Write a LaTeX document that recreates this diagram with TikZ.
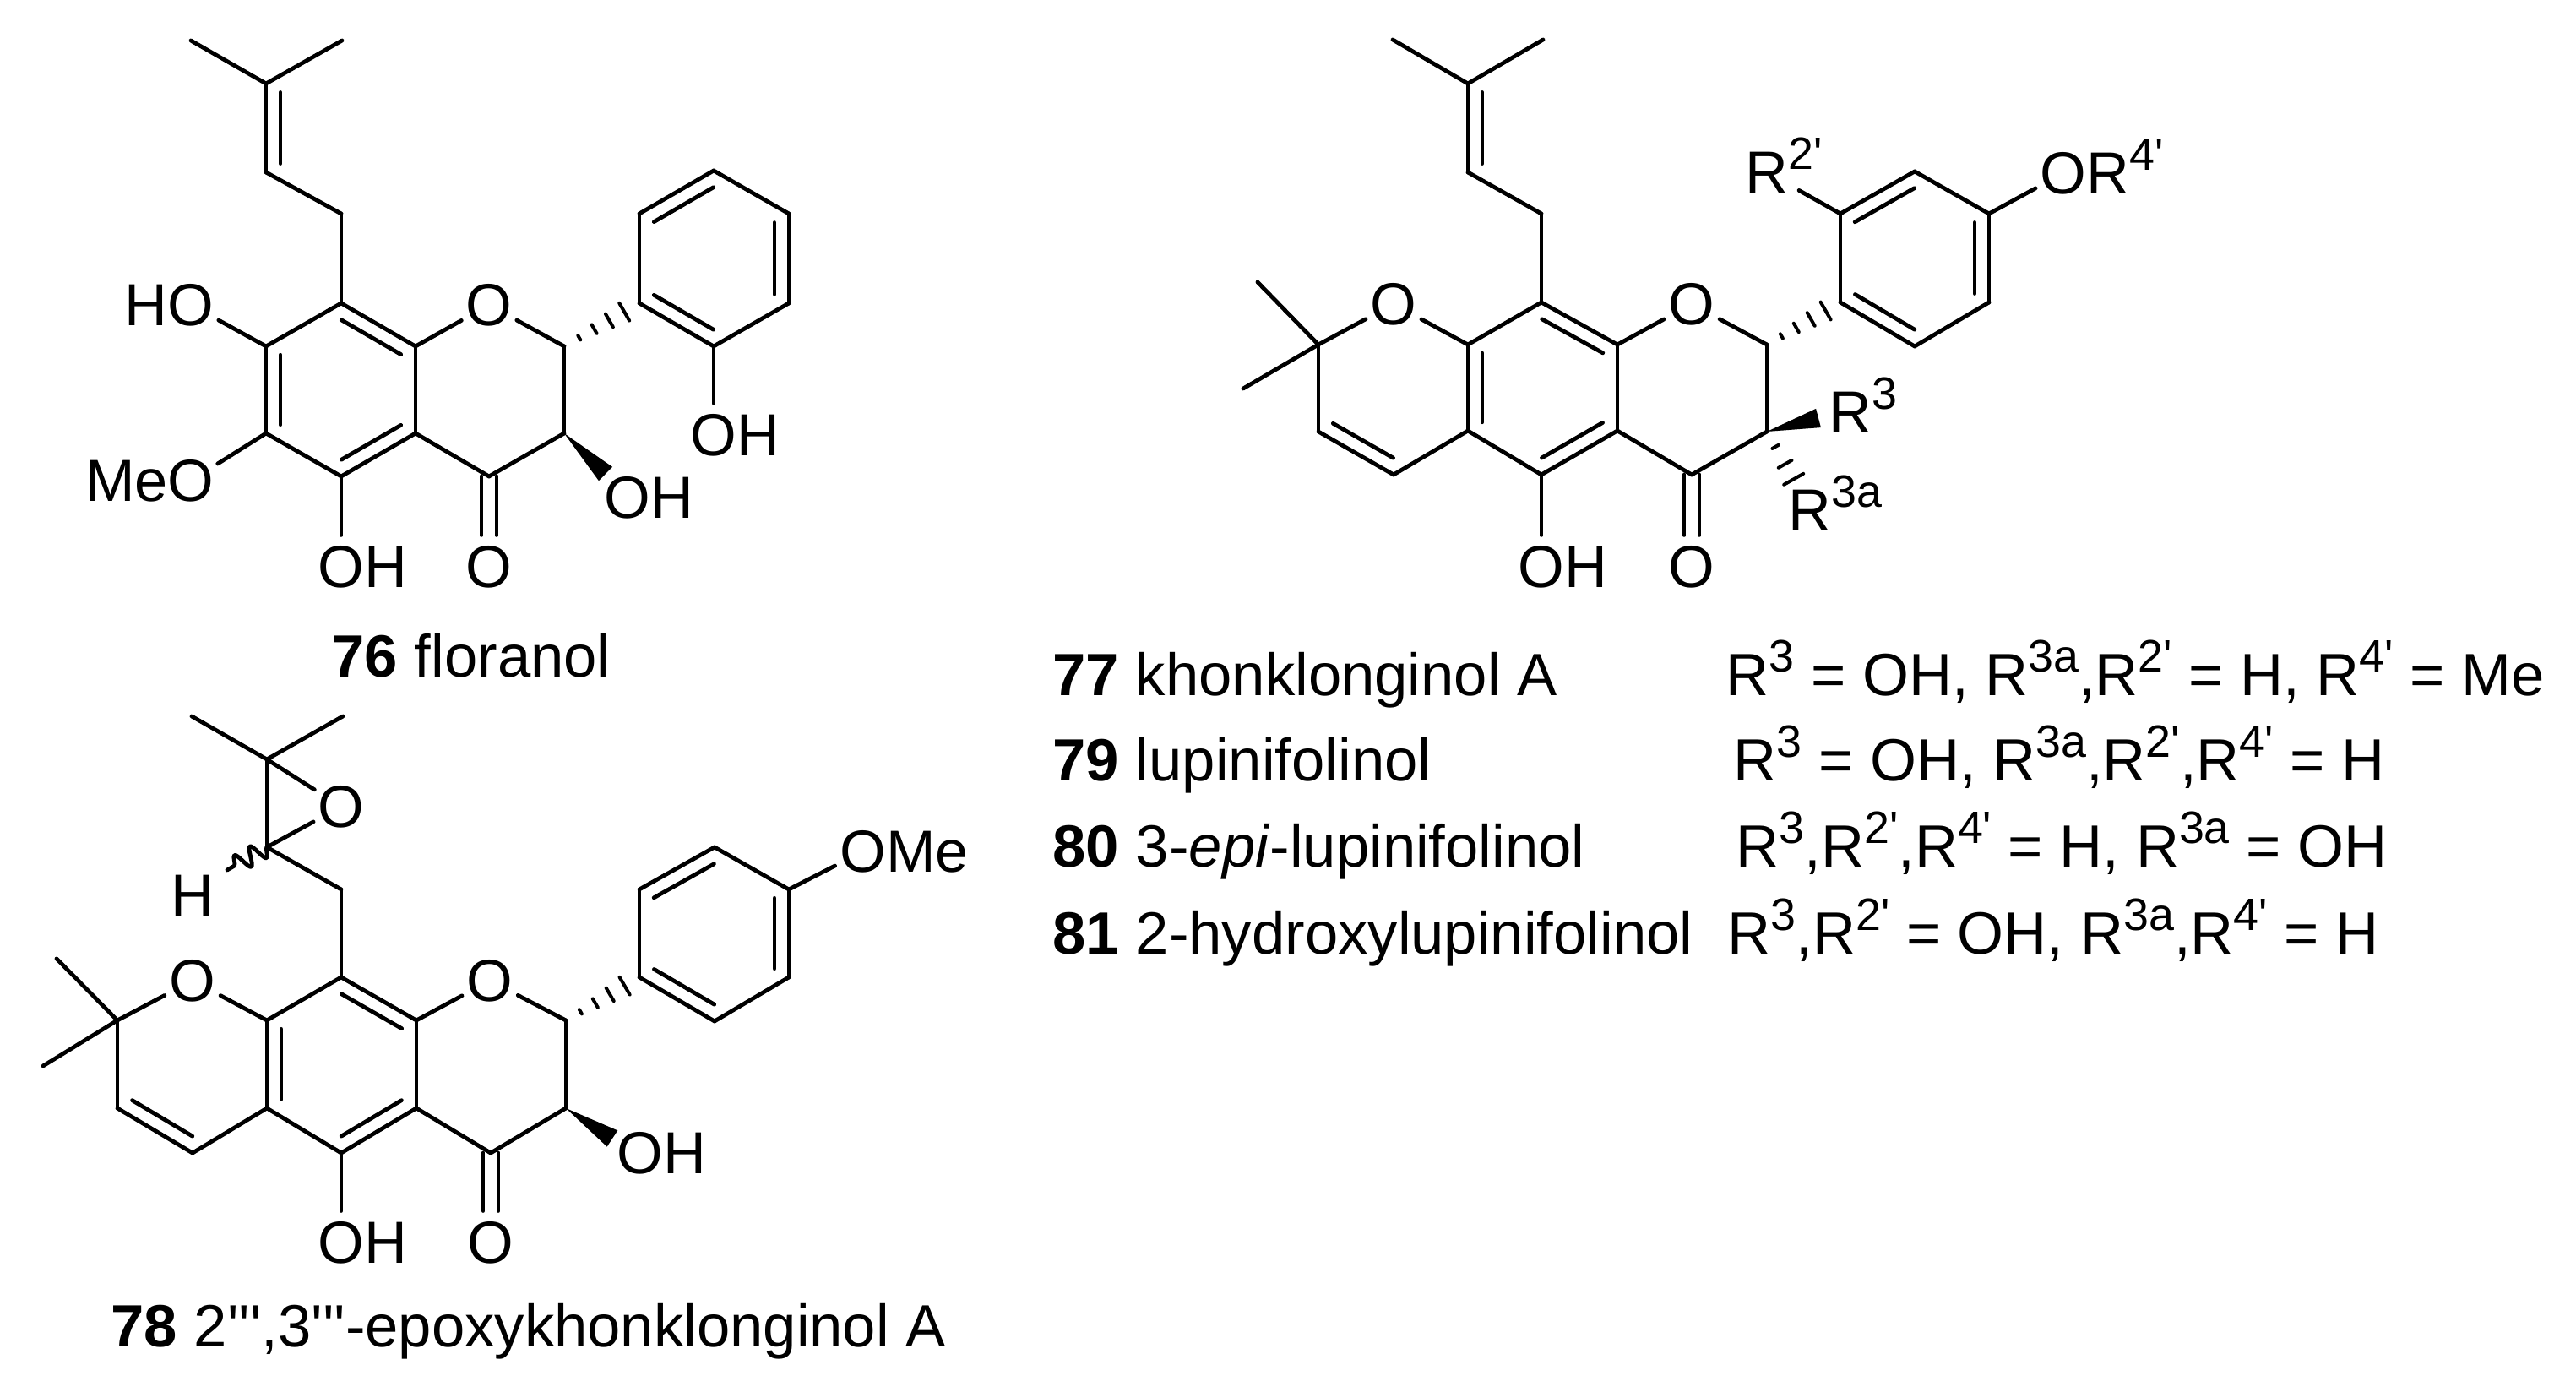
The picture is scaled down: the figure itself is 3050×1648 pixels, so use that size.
\documentclass[tikz,border=0pt]{standalone}
\usepackage{fontspec}
\usepackage{tikz}
\usetikzlibrary{calc,decorations.pathmorphing}
\newfontfamily\molfont{Liberation Sans}
\newcommand{\sps}[1]{\raisebox{.4em}{\fontsize{15.3}{15.3}\selectfont #1}}
\newcommand{\pr}{'}
% inner line of a double bond lies to the right of a->b
\newcommand{\dbl}[2]{%
    \draw[bond] (#1) -- (#2);
    \draw[bond] ($(#1)!.1!(#2)!1.7mm!-90:(#2)$) -- ($(#2)!.1!(#1)!1.7mm!90:(#1)$);}
\newcommand{\hashb}[3]{%
    \foreach \t in {#3} {
        \draw[bond,line width=.4mm] ($(#1)!\t!(#2)!\t*1.5mm!90:(#2)$) -- ($(#1)!\t!(#2)!\t*1.5mm!-90:(#2)$);}}
\newcommand{\wedgeb}[2]{%
    \fill (#1) -- ($(#2)!1.15mm!90:(#1)$) -- ($(#2)!1.15mm!-90:(#1)$) -- cycle;}
\newcommand{\cobond}[2]{%
    \draw[bond] ([xshift=-.9mm]#1.center) -- ([xshift=-.9mm]#2.north);
    \draw[bond] ([xshift=.9mm]#1.center) -- ([xshift=.9mm]#2.north);}
\tikzset{
    bond/.style={line width=.48mm,line cap=round,line join=round},
    het/.style={circle,inner sep=0pt,minimum size=7.2mm,font=\molfont\fontsize{20}{20}\selectfont},
    rgrp/.style={het,minimum size=8.6mm},
    capt/.style={anchor=base west,inner sep=0pt,font=\molfont\fontsize{20.1}{20.1}\selectfont}
}
\begin{document}
\begin{tikzpicture}[x=.1mm,y=-.1mm]
    \path[fill=white,use as bounding box] (0,0) rectangle (3050,1648);

    %% Molecule 76, top left
    \foreach \n/\x/\y in {flMa/226/48,flMb/405/48,flPa/315/99,flPb/315/204,flCh/404/253,
        flC8/404/359,flC7/315/410,flC6/315/513,flC5/404/564,flC4a/492/513,flC8a/492/410,
        flC2/668/410,flC3/668/513,flC4/579/564,flWd/717/561,
        flA1/757/359,flA2/757/253,flA3/845/202,flA4/934/253,flA5/934/359,flA6/845/410}
        \coordinate (\n) at (\x,\y);
    \node[het] (flO1) at (579,361) {O};
    \node[het] (flO4) at (579,671) {O};
    \node[het] (flHO7) at (226,361) {\llap{H}O};
    \node[het] (flOM) at (226,569) {\llap{Me}O};
    \node[het] (flOH5) at (404,671) {O\rlap{H}};
    \node[het] (flOH3) at (743,589) {O\rlap{H}};
    \node[het] (flOHa) at (845,515) {O\rlap{H}};
    \foreach \a/\b in {flMa/flPa,flMb/flPa,flPb/flCh,flCh/flC8,flC8/flC7,flC6/flC5,flC4a/flC8a,
        flC8a/flO1,flO1/flC2,flC2/flC3,flC3/flC4,flC4/flC4a,flA1/flA2,flA3/flA4,flA5/flA6,
        flC7/flHO7,flC6/flOM,flC5/flOH5,flA6/flOHa}
        \draw[bond] (\a) -- (\b);
    \dbl{flPb}{flPa}
    \dbl{flC8}{flC8a}
    \dbl{flC6}{flC7}
    \dbl{flC4a}{flC5}
    \dbl{flA2}{flA3}
    \dbl{flA4}{flA5}
    \dbl{flA6}{flA1}
    \cobond{flC4}{flO4}
    \hashb{flC2}{flA1}{.2,.4,.6,.8}
    \wedgeb{flC3}{flWd}
    \node[capt] (flName) at (392,802) {\textbf{76} floranol};

    %% Molecule 77, top right
    \foreach \n/\x/\y in {khMa/1649/47,khMb/1827/47,khPa/1738/99,khPb/1738/204,khCh/1825/253,
        khC10/1825/358,khC9/1738/408,khC8/1738/510,khC5/1825/562,khC4a/1915/510,khC8a/1915/408,
        khC2/2092/408,khC3/2092/511,khC4/2003/562,khGm/1561/408,khMc/1489/334,khMd/1472/460,
        khCa/1561/511,khCb/1650/562,khWd/2153/495,khHs/2128/575,
        khA1/2179/358,khA2/2179/253,khA3/2267/203,khA4/2355/253,khA5/2355/358,khA6/2267/410}
        \coordinate (\n) at (\x,\y);
    \node[het] (khO1) at (2003,360) {O};
    \node[het] (khO2) at (1650,360) {O};
    \node[het] (khO4) at (2003,671) {O};
    \node[het] (khOH) at (1825,671) {O\rlap{H}};
    \node[het] (khOR) at (2443,205) {O\rlap{R\smash{\sps{4\pr}}}};
    \node[rgrp] (khR2) at (2092,204) {R\rlap{\smash{\sps{2\pr}}}};
    \node[het] (khR3) at (2191,488) {R\rlap{\smash{\sps{3}}}};
    \node[het] (khR3a) at (2143,604) {R\rlap{\smash{\sps{3a}}}};
    \foreach \a/\b in {khMa/khPa,khMb/khPa,khPb/khCh,khCh/khC10,khC10/khC9,khC9/khO2,khO2/khGm,
        khGm/khMc,khGm/khMd,khGm/khCa,khCb/khC8,khC8/khC5,khC4a/khC8a,khC8a/khO1,khO1/khC2,
        khC2/khC3,khC3/khC4,khC4/khC4a,khA1/khA2,khA3/khA4,khA5/khA6,khC5/khOH,khA4/khOR,khA2/khR2}
        \draw[bond] (\a) -- (\b);
    \dbl{khPb}{khPa}
    \dbl{khC10}{khC8a}
    \dbl{khC8}{khC9}
    \dbl{khC4a}{khC5}
    \dbl{khCb}{khCa}
    \dbl{khA2}{khA3}
    \dbl{khA4}{khA5}
    \dbl{khA6}{khA1}
    \cobond{khC4}{khO4}
    \hashb{khC2}{khA1}{.2,.4,.6,.8}
    \hashb{khC3}{khHs}{.28,.6,.88}
    \wedgeb{khC3}{khWd}

    %% Names and substituents, right
    \node[capt] (khName) at (1246,824) {\textbf{77} khonklonginol A};
    \node[capt] (luName) at (1246,925) {\textbf{79} lupinifolinol};
    \node[capt] (epiName) at (1246,1027) {\textbf{80} 3-\textit{epi}-lupinifolinol};
    \node[capt] (hyName) at (1246,1130) {\textbf{81} 2-hydroxylupinifolinol};
    \node[capt] (khSub) at (2043,824) {R\sps{3} = OH, R\sps{3a},R\sps{2\pr} = H, R\sps{4\pr} = Me};
    \node[capt] (luSub) at (2052,925) {R\sps{3} = OH, R\sps{3a},R\sps{2\pr},R\sps{4\pr} = H};
    \node[capt] (epiSub) at (2055,1027) {R\sps{3},R\sps{2\pr},R\sps{4\pr} = H, R\sps{3a} = OH};
    \node[capt] (hySub) at (2045,1130) {R\sps{3},R\sps{2\pr} = OH, R\sps{3a},R\sps{4\pr} = H};

    %% Molecule 78, bottom left
    \foreach \n/\x/\y in {epMa/227/848,epMb/406/848,epQa/316/899,epQb/316/1003,epCh/404/1053,
        epC10/404/1157,epC9/316/1208,epC8/316/1312,epC5/404/1365,epC4a/493/1312,epC8a/493/1208,
        epC2/670/1208,epC3/670/1312,epC4/581/1365,epGm/139/1208,epMc/67/1135,epMd/51/1262,
        epCa/139/1312,epCb/228/1365,epWd/725/1348,epWv/269/1030,
        epA1/757/1157,epA2/757/1053,epA3/846/1003,epA4/934/1053,epA5/934/1157,epA6/846/1209}
        \coordinate (\n) at (\x,\y);
    \node[het] (epO1) at (580,1161) {O};
    \node[het] (epO2) at (228,1161) {O};
    \node[het] (epOx) at (404,955) {O};
    \node[het] (epO4) at (581,1471) {O};
    \node[het] (epOH) at (404,1471) {O\rlap{H}};
    \node[het] (epOH3) at (758,1365) {O\rlap{H}};
    \node[het] (epOM) at (1022,1008) {O\rlap{Me}};
    \node[het] (epH) at (228,1060) {H};
    \foreach \a/\b in {epMa/epQa,epMb/epQa,epQa/epQb,epQa/epOx,epQb/epOx,epQb/epCh,epCh/epC10,
        epC10/epC9,epC9/epO2,epO2/epGm,epGm/epMc,epGm/epMd,epGm/epCa,epCb/epC8,epC8/epC5,
        epC4a/epC8a,epC8a/epO1,epO1/epC2,epC2/epC3,epC3/epC4,epC4/epC4a,epA1/epA2,epA3/epA4,
        epA5/epA6,epC5/epOH,epA4/epOM}
        \draw[bond] (\a) -- (\b);
    \dbl{epC10}{epC8a}
    \dbl{epC8}{epC9}
    \dbl{epC4a}{epC5}
    \dbl{epCb}{epCa}
    \dbl{epA2}{epA3}
    \dbl{epA4}{epA5}
    \dbl{epA6}{epA1}
    \cobond{epC4}{epO4}
    \hashb{epC2}{epA1}{.2,.4,.6,.8}
    \wedgeb{epC3}{epWd}
    \draw[bond,decorate,decoration={snake,amplitude=1.1mm,segment length=2.1mm}] (epQb) -- (epWv);
    \node[capt] (epName) at (131,1595) {\textbf{78} 2\pr\pr\pr,3\pr\pr\pr-epoxykhonklonginol A};
\end{tikzpicture}
\end{document}
